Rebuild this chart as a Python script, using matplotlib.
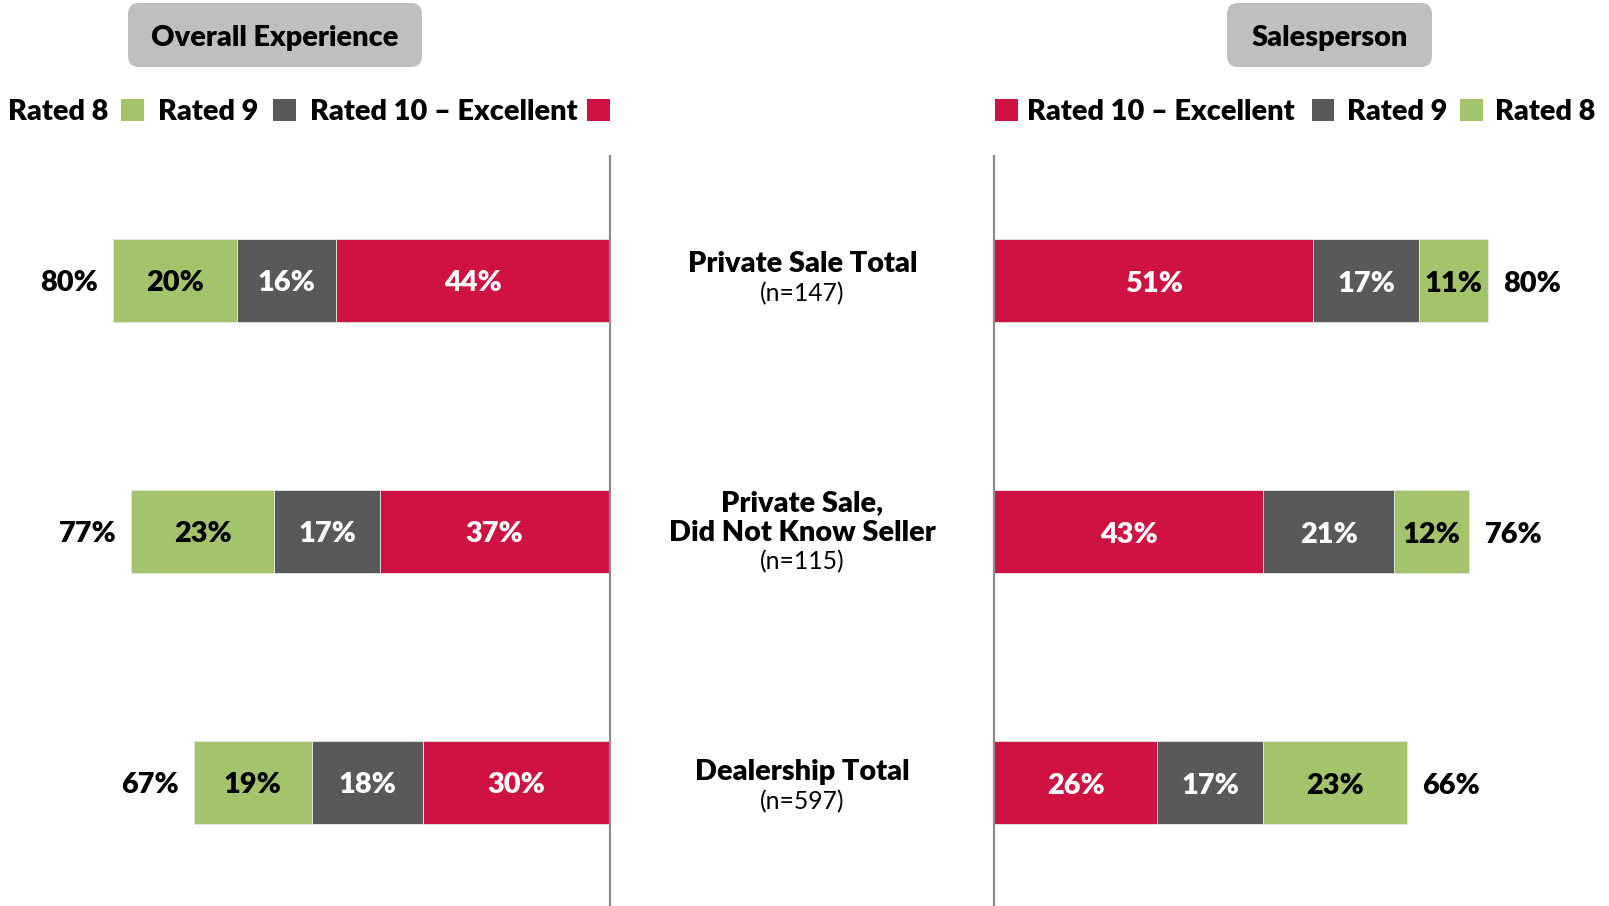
import matplotlib
matplotlib.use("Agg")
import matplotlib.pyplot as plt
from matplotlib.patches import Rectangle, FancyBboxPatch
from matplotlib.transforms import Affine2D

# ---------------- data ----------------
categories = ["Private Sale Total", "Private Sale,\nDid Not Know Seller", "Dealership Total"]
sample_sizes = ["(n=147)", "(n=115)", "(n=597)"]

overall_rated10 = [44, 37, 30]
overall_rated9 = [16, 17, 18]
overall_rated8 = [20, 23, 19]
overall_total = [80, 77, 67]

sales_rated10 = [51, 43, 26]
sales_rated9 = [17, 21, 17]
sales_rated8 = [11, 12, 23]
sales_total = [80, 76, 66]

panel_titles = ["Overall Experience", "Salesperson"]
legend_labels = ["Rated 10 \u2013 Excellent", "Rated 9", "Rated 8"]

# ---------------- style ----------------
RED = "#D01242"
GREY = "#58595B"
GREEN = "#A3C46B"
BOXGREY = "#BFBFC1"
AXGREY = "#8C8C8C"
FONT = "Lato"
FS = 20.8
FW = "heavy"

W, H = 1609, 906
fig = plt.figure(figsize=(W / 100, H / 100), dpi=100)
plt.rcParams["font.family"] = [FONT, "DejaVu Sans"]

# pixel transform, origin top-left
PX = Affine2D().scale(1, -1).translate(0, H)

PPU_L = 6.21  # pixels per percent
PPU_R = 6.25
left_edge = 609.6
right_edge = 994.4
ax_top = 156
row_centers_px = [280.2, 530.5, 782.0]
unit_px = 251.0
ylim_top = 0 - (row_centers_px[0] - ax_top) / unit_px
ylim_bot = 2 + (H - row_centers_px[2]) / unit_px
shiftR = 0.8 / unit_px

axL = fig.add_axes([0, 0, left_edge / W, (H - ax_top) / H])
axR = fig.add_axes([right_edge / W, 0, (W - right_edge) / W, (H - ax_top) / H])
axL.set_xlim(left_edge / PPU_L, 0)
axR.set_xlim(0, (W - right_edge) / PPU_R)
axL.set_ylim(ylim_bot, ylim_top)
axR.set_ylim(ylim_bot - shiftR, ylim_top - shiftR)
for ax in (axL, axR):
    ax.set_xticks([])
    ax.set_yticks([])
    for s in ax.spines.values():
        s.set_visible(False)
    ax.patch.set_alpha(0)
axL.spines["right"].set_visible(True)
axL.spines["right"].set_color(AXGREY)
axL.spines["right"].set_linewidth(1.6)
axR.spines["left"].set_visible(True)
axR.spines["left"].set_color(AXGREY)
axR.spines["left"].set_linewidth(1.6)

ypos = list(range(len(categories)))
BH = 83 / unit_px
TDY = -3  # text vertical nudge in pixels


def draw_panel(ax, r10, r9, r8, tot, right):
    lefts = [0] * len(ypos)
    for vals, col, tcol in ((r10, RED, "white"), (r9, GREY, "white"), (r8, GREEN, "black")):
        ax.barh(ypos, vals, left=lefts, height=BH, color=col, edgecolor="#E6E6E6", linewidth=0.6)
        for y, l, v in zip(ypos, lefts, vals):
            ax.annotate(f"{v}%", xy=(l + v / 2, y), xytext=(0, TDY), textcoords="offset pixels",
                        ha="center", va="center", color=tcol,
                        fontsize=FS, fontweight=FW, family=FONT)
        lefts = [a + b for a, b in zip(lefts, vals)]
    for y, l, t in zip(ypos, lefts, tot):
        ax.annotate(f"{t}%", xy=(l, y), xytext=(15 if right else -15, TDY),
                    textcoords="offset pixels", ha="left" if right else "right",
                    va="center", fontsize=FS, fontweight=FW, color="black", family=FONT)


draw_panel(axL, overall_rated10, overall_rated9, overall_rated8, overall_total, False)
draw_panel(axR, sales_rated10, sales_rated9, sales_rated8, sales_total, True)

# category labels in the middle
cx = 802.5 / W
spacing = 29.5
row_shift = [0, -2.5, -5.5]
for y, cat, n, rs in zip(ypos, categories, sample_sizes, row_shift):
    lines = cat.split("\n")
    allines = lines + [n]
    k = len(allines)
    for i, line in enumerate(allines):
        off = spacing * ((k - 1) / 2 - i) + 1 + rs
        axL.annotate(line, xy=(cx, y), xycoords=("figure fraction", "data"),
                     xytext=(0, off), textcoords="offset pixels", ha="center", va="center",
                     fontsize=FS if i < len(lines) else FS - 3,
                     fontweight=FW if i < len(lines) else "normal",
                     color="black", family=FONT, annotation_clip=False)

# title boxes
for (x0, x1), title in zip([(128, 422), (1227, 1432)], panel_titles):
    box = FancyBboxPatch((x0, 3), x1 - x0, 64, boxstyle="round,pad=0,rounding_size=11",
                         transform=PX, facecolor=BOXGREY, edgecolor="none")
    fig.patches.append(box)
    fig.text((x0 + x1) / 2, 38, title, transform=PX, ha="center", va="center",
             fontsize=FS, fontweight=FW, family=FONT)

# legends
colors = [RED, GREY, GREEN]
SQ = 22.6
LY = 110
TY = 112
# left legend: text then square, order Rated 8, Rated 9, Rated 10
left_items = [(8.2, 121, 2), (158, 273, 1), (310, 587, 0)]
for tx, sx, idx in left_items:
    fig.text(tx, TY, legend_labels[idx], transform=PX, ha="left", va="center",
             fontsize=FS, fontweight=FW, family=FONT)
    fig.patches.append(Rectangle((sx, LY - SQ / 2), SQ, SQ, transform=PX,
                                 facecolor=colors[idx], edgecolor="none"))
# right legend: square then text
right_items = [(995.4, 1027, 0), (1311.6, 1347.4, 1), (1460, 1495, 2)]
for sx, tx, idx in right_items:
    fig.patches.append(Rectangle((sx, LY - SQ / 2), SQ, SQ, transform=PX,
                                 facecolor=colors[idx], edgecolor="none"))
    fig.text(tx, TY, legend_labels[idx], transform=PX, ha="left", va="center",
             fontsize=FS, fontweight=FW, family=FONT)

fig.savefig("out.png", dpi=100, facecolor="white")
